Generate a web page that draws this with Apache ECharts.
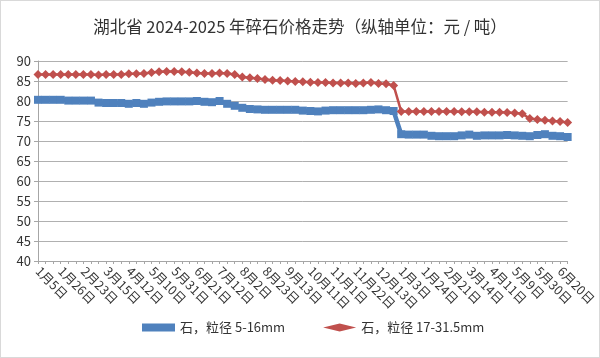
<!DOCTYPE html>
<html>
<head>
<meta charset="utf-8">
<script src="https://cdn.jsdelivr.net/npm/echarts@6/dist/echarts.min.js"></script>
<style>
html,body{margin:0;padding:0;background:#fff;}
#chart{width:598px;height:356px;border:1px solid #d9d9d9;}
</style>
</head>
<body>
<div id="chart"></div>
<script>
var titleText = '湖北省 2024-2025 年碎石价格走势（纵轴单位：元 / 吨）';
var seriesNames = ['石，粒径 5-16mm', '石，粒径 17-31.5mm'];
var categories = [
 '1月5日','1月12日','1月19日','1月26日','2月2日','2月9日','2月23日','3月1日','3月8日','3月15日',
 '3月22日','3月29日','4月12日','4月19日','4月26日','5月10日','5月17日','5月24日','5月31日','6月7日',
 '6月14日','6月21日','6月28日','7月5日','7月12日','7月19日','7月26日','8月2日','8月9日','8月16日',
 '8月23日','8月30日','9月6日','9月13日','9月20日','9月27日','10月11日','10月18日','10月25日','11月1日',
 '11月8日','11月15日','11月22日','11月29日','12月6日','12月13日','12月20日','12月27日','1月3日','1月10日',
 '1月17日','1月24日','2月7日','2月14日','2月21日','2月28日','3月7日','3月14日','3月21日','3月28日',
 '4月11日','4月18日','4月25日','5月9日','5月16日','5月23日','5月30日','6月6日','6月13日','6月20日',
 '6月27日'
];
var stone516 = [
 80.3,80.3,80.3,80.3,80.1,80.1,80.1,80.1,79.6,79.5,
 79.5,79.5,79.3,79.5,79.3,79.6,79.8,79.9,79.9,79.9,
 79.9,80.0,79.8,79.7,80.0,79.3,78.8,78.3,78.0,77.9,
 77.8,77.8,77.8,77.8,77.8,77.6,77.5,77.4,77.6,77.7,
 77.7,77.7,77.7,77.7,77.8,77.9,77.7,77.5,71.7,71.6,
 71.6,71.6,71.3,71.2,71.2,71.2,71.4,71.6,71.3,71.4,
 71.4,71.4,71.5,71.4,71.3,71.2,71.5,71.7,71.3,71.2,
 71.0
];
var stone1731 = [
 86.6,86.6,86.6,86.6,86.6,86.6,86.6,86.6,86.5,86.6,
 86.6,86.6,86.8,86.8,86.9,87.1,87.3,87.4,87.4,87.3,
 87.2,87.0,86.9,86.9,87.0,86.9,86.6,86.0,85.8,85.6,
 85.4,85.2,85.1,85.0,84.9,84.8,84.7,84.6,84.6,84.5,
 84.5,84.5,84.4,84.5,84.6,84.4,84.3,83.9,77.4,77.4,
 77.4,77.4,77.4,77.4,77.4,77.4,77.3,77.3,77.3,77.2,
 77.2,77.2,77.1,77.0,76.8,75.6,75.4,75.2,75.0,74.9,
 74.6
];
var yMin = 40, yMax = 90, yStep = 5;

var chart = echarts.init(document.getElementById('chart'));
var font = '"Noto Sans CJK SC", "Noto Sans", sans-serif';
chart.setOption({
  animation: false,
  backgroundColor: '#fff',
  title: {
    text: titleText, left: 'center', top: 12,
    textStyle: {fontFamily: font, fontSize: 16.5, fontWeight: 'normal', color: '#333'}
  },
  legend: {
    bottom: 18, left: 136, itemGap: 38, itemWidth: 33, itemHeight: 8,
    textStyle: {fontFamily: font, fontSize: 13, color: '#333'},
    data: [
      {name: seriesNames[0], icon: 'rect'},
      {name: seriesNames[1], icon: 'diamond'}
    ]
  },
  grid: {left: 37, right: 24, top: 60, bottom: 96},
  xAxis: {
    type: 'category', data: categories, boundaryGap: false,
    axisLine: {lineStyle: {color: '#a6a6a6'}},
    axisTick: {show: true, interval: 0, length: 3, lineStyle: {color: '#a6a6a6'}},
    axisLabel: {interval: 2, rotate: -45, fontFamily: font, fontSize: 12.5, color: '#333', margin: 8}
  },
  yAxis: {
    type: 'value', min: yMin, max: yMax, interval: yStep,
    axisLine: {show: true, lineStyle: {color: '#a6a6a6'}},
    axisTick: {show: true, length: 4, lineStyle: {color: '#a6a6a6'}},
    axisLabel: {fontFamily: font, fontSize: 13, color: '#333', margin: 7},
    splitLine: {lineStyle: {color: '#b0b0b0', width: 1}}
  },
  series: [
    {
      name: seriesNames[0], type: 'line', data: stone516,
      symbol: 'rect', symbolSize: 8, showAllSymbol: true,
      lineStyle: {color: '#4f81bd', width: 4.5},
      itemStyle: {color: '#4f81bd'}
    },
    {
      name: seriesNames[1], type: 'line', data: stone1731,
      symbol: 'diamond', symbolSize: 9, showAllSymbol: true,
      lineStyle: {color: '#c0504d', width: 2.5},
      itemStyle: {color: '#c0504d'}
    }
  ]
});
</script>
</body>
</html>
